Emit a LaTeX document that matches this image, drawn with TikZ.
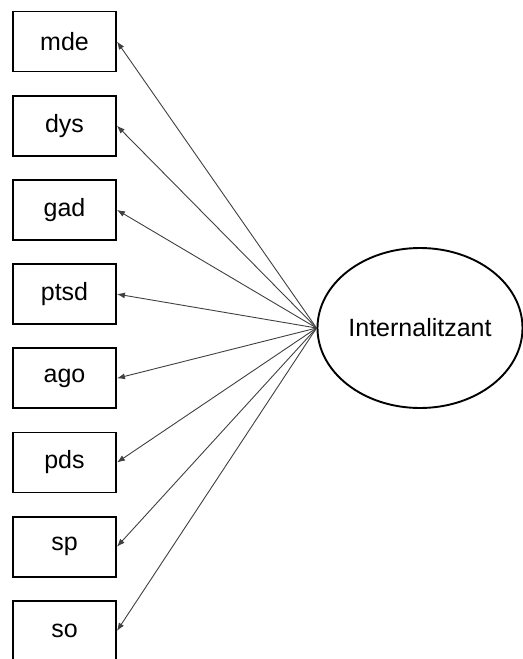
\documentclass[tikz,border=0pt]{standalone}
\usepackage{fontspec}
\setmainfont{Liberation Sans}
\usepackage{tikz}
\usetikzlibrary{shapes.geometric, arrows.meta}
\tikzstyle{arrow} = [-{Latex[length=4pt, width=3pt]}, line width=0.45pt, draw=black!75]
\tikzstyle{obs} = [draw, line width=0.95pt, minimum width=51.5pt, minimum height=30pt]
\tikzstyle{lat} = [draw, ellipse, line width=0.95pt, minimum width=102.5pt, minimum height=80pt, inner sep=0pt]

\begin{document}
\begin{tikzpicture}[x=0.5pt, y=-0.5pt, node distance=42.1pt, every node/.style={font=\fontsize{12.5}{15}\selectfont}]
		\useasboundingbox (0,0) rectangle (523,659);

		\node (mde) [obs] at (64.5,41.5) {mde};
		\node (dys) [obs, below of=mde] {dys};
		\node (gad) [obs, below of=dys] {gad};
		\node (ptsd) [obs, below of=gad] {ptsd};
		\node (ago) [obs, below of=ptsd] {ago};
		\node (pds) [obs, below of=ago] {pds};
		\node (sp) [obs, below of=pds] {sp};
		\node (so) [obs, below of=sp] {so};

		\node (intern) [lat] at (420,328) {Internalitzant};

		\draw [arrow] (intern.west) -- (mde.east);
		\draw [arrow] (intern.west) -- (dys.east);
		\draw [arrow] (intern.west) -- (gad.east);
		\draw [arrow] (intern.west) -- (ptsd.east);
		\draw [arrow] (intern.west) -- (ago.east);
		\draw [arrow] (intern.west) -- (pds.east);
		\draw [arrow] (intern.west) -- (sp.east);
		\draw [arrow] (intern.west) -- (so.east);
	\end{tikzpicture}
\end{document}
